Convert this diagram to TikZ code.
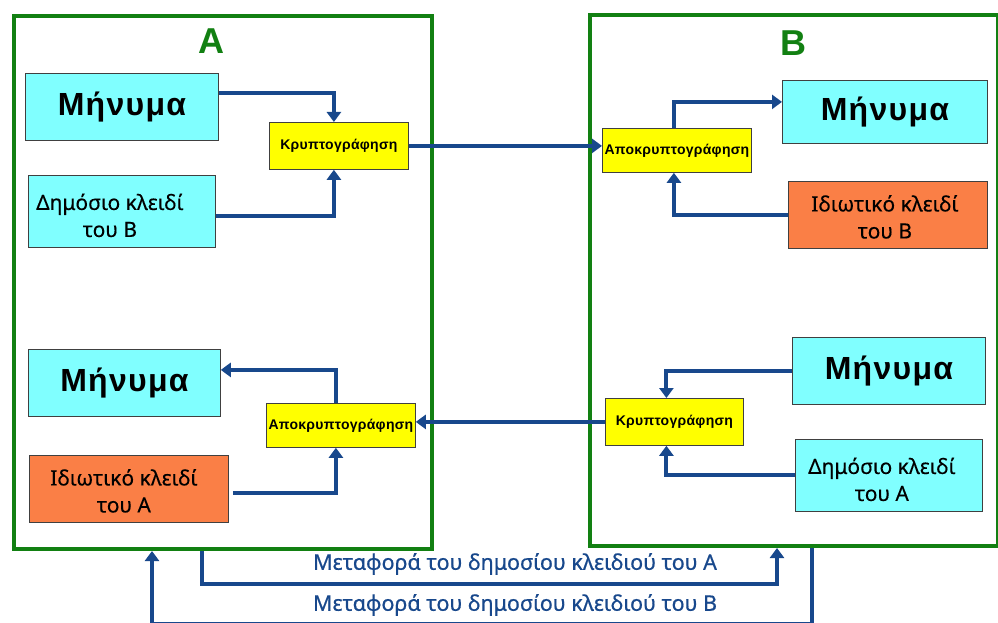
\documentclass[tikz,border=0pt]{standalone}
\usepackage{fontspec}
\setmainfont{Liberation Sans}
\newfontfamily\keyfont[FakeBold=0.3]{Noto Sans}
\newfontfamily\carryfont[FakeBold=0.6]{Noto Sans}
\newfontfamily\msgfont[LetterSpace=4]{Liberation Sans}
\newfontfamily\procfont[LetterSpace=2]{Liberation Sans}
\usetikzlibrary{arrows.meta}

\definecolor{frameg}{RGB}{18,128,18}
\definecolor{flowblue}{RGB}{24,72,140}
\definecolor{msgcyan}{RGB}{128,255,255}
\definecolor{keyorange}{RGB}{250,127,70}
\definecolor{procyellow}{RGB}{255,255,0}

\begin{document}
\begin{tikzpicture}[x=1pt,y=-1pt,
  frame/.style={draw=frameg, line width=4pt, anchor=north west, inner sep=0pt},
  title/.style={text=frameg, font=\fontsize{36}{40}\selectfont\bfseries},
  panel/.style={draw=black!75, line width=0.8pt, anchor=north west, inner sep=0pt},
  msgbox/.style={panel, fill=msgcyan, font=\msgfont\bfseries\fontsize{32}{36}\selectfont},
  pubbox/.style={panel, fill=msgcyan},
  privbox/.style={panel, fill=keyorange},
  keytext/.style={align=center, font=\keyfont\fontsize{21}{27}\selectfont},
  procbox/.style={panel, fill=procyellow, font=\procfont\bfseries\fontsize{14}{16}\selectfont},
  carrytext/.style={text=flowblue, font=\carryfont\fontsize{21.5}{24}\selectfont},
  flow/.style={draw=flowblue, line width=4pt, -{Triangle[width=14pt,length=10pt]}}
]
\useasboundingbox (0,0) rectangle (998,623);
\fill[white] (0,0) rectangle (998,623);

% the two parties
\node[frame, minimum width=418pt, minimum height=533pt] (boxA) at (12,14) {};
\node[frame, minimum width=408pt, minimum height=531pt] (boxB) at (588,13) {};
\node[title] (titleA) at (211,41) {A};
\node[title] (titleB) at (793,43) {B};

% party A, sending side
\node[msgbox, minimum width=193pt, minimum height=67pt] (msgA1) at (25,73) {Μήνυμα};
\node[pubbox, minimum width=187pt, minimum height=72pt] (pubBA) at (28,175) {};
\node[keytext] (pubBAtxt) at ([xshift=-12pt,yshift=-4pt]pubBA.center) {Δημόσιο κλειδί\\του Β};
\node[procbox, minimum width=139pt, minimum height=47pt] (encA) at (269,122) {Κρυπτογράφηση};

% party A, receiving side
\node[msgbox, minimum width=192pt, minimum height=67pt] (msgA2) at (28,349) {Μήνυμα};
\node[privbox, minimum width=199pt, minimum height=67pt] (privA) at (29,455) {};
\node[keytext] (privAtxt) at ([xshift=-5pt,yshift=-2pt]privA.center) {Ιδιωτικό κλειδί\\του Α};
\node[procbox, minimum width=149pt, minimum height=44pt] (decA) at (266,403) {Αποκρυπτογράφηση};

% party B, receiving side
\node[procbox, minimum width=149pt, minimum height=44pt] (decB) at (602,128) {Αποκρυπτογράφηση};
\node[msgbox, minimum width=205pt, minimum height=63pt] (msgB1) at (782,80) {Μήνυμα};
\node[privbox, minimum width=199pt, minimum height=67pt] (privB) at (788,181) {};
\node[keytext] (privBtxt) at ([xshift=-3pt,yshift=-2pt]privB.center) {Ιδιωτικό κλειδί\\του Β};

% party B, sending side
\node[msgbox, minimum width=193pt, minimum height=67pt] (msgB2) at (792,337) {Μήνυμα};
\node[procbox, minimum width=138pt, minimum height=47pt] (encB) at (605,398) {Κρυπτογράφηση};
\node[pubbox, minimum width=187pt, minimum height=72pt] (pubAB) at (795,439) {};
\node[keytext] (pubABtxt) at ([xshift=-7pt,yshift=-4pt]pubAB.center) {Δημόσιο κλειδί\\του Α};

% message flow inside A and towards B
\draw[flow] ([yshift=14pt]msgA1.east) -| ([xshift=-5pt]encA.north);
\draw[flow] ([yshift=-5pt]pubBA.east) -| ([xshift=-5pt]encA.south);
\draw[flow] (encA.east) -- (encA.east -| decB.west);
\draw[flow] ([xshift=-3pt]decB.north) |- ([yshift=10pt]msgB1.west);
\draw[flow] (privB.west) -| ([xshift=-3pt]decB.south);

% message flow inside B and back towards A
\draw[flow] (msgB2.west) -| ([xshift=-8pt]encB.north);
\draw[flow] (pubAB.west) -| ([xshift=-8pt]encB.south);
\draw[flow] (encB.west) -- (encB.west -| decA.east);
\draw[flow] ([xshift=-5pt]decA.north) |- ([yshift=13pt]msgA2.east);
\draw[flow] ([xshift=4pt,yshift=-4pt]privA.east) -| ([xshift=-5pt]decA.south);

% exchange of the public keys
\draw[flow] ([xshift=-21pt]boxA.south) -- ++(0,33) -| ([xshift=-17pt]boxB.south);
\draw[flow] ([xshift=18pt]boxB.south) -- ++(0,76) -| ([xshift=-71pt]boxA.south);
\node[carrytext] (carryA) at (515,564) {Μεταφορά του δημοσίου κλειδιού του Α};
\node[carrytext] (carryB) at (515,605) {Μεταφορά του δημοσίου κλειδιού του Β};
\end{tikzpicture}
\end{document}
